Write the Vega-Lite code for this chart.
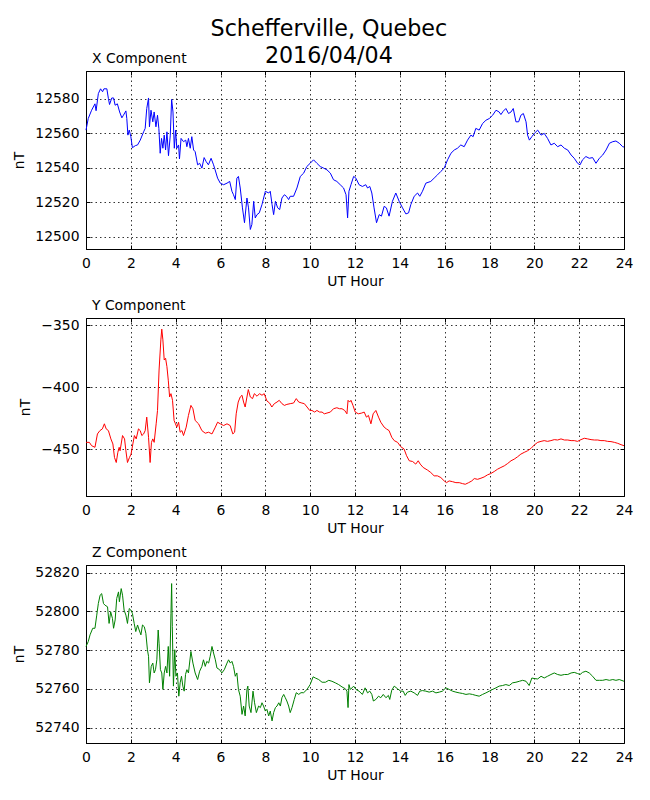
{
  "$schema": "https://vega.github.io/schema/vega-lite/v6.json",
  "padding": {"left": 12, "top": 17, "right": 20, "bottom": 10},
  "title": {
    "text": ["Schefferville, Quebec", "2016/04/04"],
    "fontSize": 22.2,
    "fontWeight": "normal",
    "font": "DejaVu Sans",
    "color": "black",
    "anchor": "middle",
    "frame": "bounds",
    "lineHeight": 27,
    "offset": -16
  },
  "datasets": {
    "x": [
      {"hour": 0, "nT": 12561.8}, {"hour": 0.1, "nT": 12568.5}, {"hour": 0.25, "nT": 12573.3}, {"hour": 0.4, "nT": 12577}, {"hour": 0.45, "nT": 12573},
      {"hour": 0.55, "nT": 12582.9}, {"hour": 0.65, "nT": 12585.7}, {"hour": 0.74, "nT": 12584}, {"hour": 0.8, "nT": 12585.7}, {"hour": 0.93, "nT": 12585.7},
      {"hour": 1.0, "nT": 12580}, {"hour": 1.05, "nT": 12576.6}, {"hour": 1.15, "nT": 12580.4}, {"hour": 1.23, "nT": 12580.4}, {"hour": 1.3, "nT": 12576.2},
      {"hour": 1.4, "nT": 12577}, {"hour": 1.5, "nT": 12572.3}, {"hour": 1.6, "nT": 12568.9}, {"hour": 1.67, "nT": 12570.4}, {"hour": 1.78, "nT": 12572.9},
      {"hour": 1.82, "nT": 12568.5}, {"hour": 1.87, "nT": 12558.9}, {"hour": 1.93, "nT": 12561.8}, {"hour": 2.0, "nT": 12558}, {"hour": 2.07, "nT": 12551.6},
      {"hour": 2.2, "nT": 12552.8}, {"hour": 2.3, "nT": 12553.2}, {"hour": 2.42, "nT": 12556}, {"hour": 2.57, "nT": 12560.8}, {"hour": 2.64, "nT": 12562.8},
      {"hour": 2.71, "nT": 12574.3}, {"hour": 2.79, "nT": 12580.4}, {"hour": 2.83, "nT": 12563.7}, {"hour": 2.9, "nT": 12573.3}, {"hour": 2.98, "nT": 12566.6},
      {"hour": 3.04, "nT": 12572.3}, {"hour": 3.12, "nT": 12563.7}, {"hour": 3.19, "nT": 12570.4}, {"hour": 3.25, "nT": 12562.8}, {"hour": 3.31, "nT": 12548.4},
      {"hour": 3.37, "nT": 12557}, {"hour": 3.43, "nT": 12551.3}, {"hour": 3.49, "nT": 12558.9}, {"hour": 3.55, "nT": 12550.3}, {"hour": 3.61, "nT": 12560.8},
      {"hour": 3.68, "nT": 12547}, {"hour": 3.76, "nT": 12558.9}, {"hour": 3.82, "nT": 12579.6}, {"hour": 3.88, "nT": 12572.3}, {"hour": 3.94, "nT": 12551.3},
      {"hour": 4.0, "nT": 12561.8}, {"hour": 4.05, "nT": 12551.3}, {"hour": 4.13, "nT": 12553.2}, {"hour": 4.17, "nT": 12545.1}, {"hour": 4.24, "nT": 12557},
      {"hour": 4.35, "nT": 12555.1}, {"hour": 4.45, "nT": 12556}, {"hour": 4.5, "nT": 12552.2}, {"hour": 4.57, "nT": 12557}, {"hour": 4.65, "nT": 12551.3},
      {"hour": 4.72, "nT": 12558}, {"hour": 4.8, "nT": 12550.3}, {"hour": 4.87, "nT": 12549.3}, {"hour": 4.98, "nT": 12541.7}, {"hour": 5.07, "nT": 12542.6},
      {"hour": 5.17, "nT": 12539.8}, {"hour": 5.27, "nT": 12545.9}, {"hour": 5.36, "nT": 12543.6}, {"hour": 5.46, "nT": 12541.7}, {"hour": 5.58, "nT": 12545.5},
      {"hour": 5.69, "nT": 12541.7}, {"hour": 5.76, "nT": 12538.8}, {"hour": 5.87, "nT": 12534}, {"hour": 5.99, "nT": 12531.1}, {"hour": 6.14, "nT": 12530.2},
      {"hour": 6.29, "nT": 12531.1}, {"hour": 6.41, "nT": 12532.1}, {"hour": 6.51, "nT": 12526.4}, {"hour": 6.58, "nT": 12524.4}, {"hour": 6.66, "nT": 12521.6},
      {"hour": 6.73, "nT": 12534}, {"hour": 6.8, "nT": 12535}, {"hour": 6.88, "nT": 12528.3}, {"hour": 6.98, "nT": 12516.8}, {"hour": 7.07, "nT": 12508.2},
      {"hour": 7.18, "nT": 12522.5}, {"hour": 7.25, "nT": 12516.8}, {"hour": 7.33, "nT": 12504.3}, {"hour": 7.4, "nT": 12507.2}, {"hour": 7.48, "nT": 12520.6},
      {"hour": 7.55, "nT": 12511}, {"hour": 7.63, "nT": 12512.9}, {"hour": 7.73, "nT": 12513.9}, {"hour": 7.85, "nT": 12518.7}, {"hour": 8.0, "nT": 12526.4},
      {"hour": 8.15, "nT": 12525.4}, {"hour": 8.22, "nT": 12526.4}, {"hour": 8.3, "nT": 12518.7}, {"hour": 8.37, "nT": 12512.9}, {"hour": 8.45, "nT": 12520.6},
      {"hour": 8.55, "nT": 12516.8}, {"hour": 8.64, "nT": 12515.8}, {"hour": 8.74, "nT": 12522.5}, {"hour": 8.85, "nT": 12524.4}, {"hour": 8.94, "nT": 12523.5},
      {"hour": 9.04, "nT": 12521.6}, {"hour": 9.11, "nT": 12523.5}, {"hour": 9.26, "nT": 12523.5}, {"hour": 9.41, "nT": 12528.3}, {"hour": 9.56, "nT": 12535},
      {"hour": 9.71, "nT": 12536.9}, {"hour": 9.85, "nT": 12540.7}, {"hour": 10.0, "nT": 12542.6}, {"hour": 10.15, "nT": 12544.6}, {"hour": 10.3, "nT": 12542.6},
      {"hour": 10.45, "nT": 12540.7}, {"hour": 10.6, "nT": 12539.8}, {"hour": 10.75, "nT": 12538.8}, {"hour": 10.9, "nT": 12536.9}, {"hour": 11.04, "nT": 12533.1},
      {"hour": 11.19, "nT": 12532.1}, {"hour": 11.34, "nT": 12530.2}, {"hour": 11.49, "nT": 12528.3}, {"hour": 11.6, "nT": 12524.4}, {"hour": 11.67, "nT": 12511},
      {"hour": 11.73, "nT": 12526.4}, {"hour": 11.82, "nT": 12530.2}, {"hour": 11.94, "nT": 12535}, {"hour": 12.04, "nT": 12534}, {"hour": 12.18, "nT": 12530.2},
      {"hour": 12.33, "nT": 12529.2}, {"hour": 12.48, "nT": 12530.2}, {"hour": 12.56, "nT": 12528.3}, {"hour": 12.66, "nT": 12529.2}, {"hour": 12.75, "nT": 12525.4},
      {"hour": 12.85, "nT": 12516.8}, {"hour": 12.96, "nT": 12508.2}, {"hour": 13.08, "nT": 12512.9}, {"hour": 13.18, "nT": 12512}, {"hour": 13.3, "nT": 12517.7},
      {"hour": 13.4, "nT": 12516.8}, {"hour": 13.52, "nT": 12512}, {"hour": 13.67, "nT": 12520.6}, {"hour": 13.82, "nT": 12525.4}, {"hour": 13.97, "nT": 12520.6},
      {"hour": 14.12, "nT": 12516.8}, {"hour": 14.27, "nT": 12513.3}, {"hour": 14.39, "nT": 12513.9}, {"hour": 14.49, "nT": 12518.7}, {"hour": 14.64, "nT": 12523.5},
      {"hour": 14.79, "nT": 12525.4}, {"hour": 14.89, "nT": 12523.5}, {"hour": 15.01, "nT": 12526.4}, {"hour": 15.16, "nT": 12531.1}, {"hour": 15.38, "nT": 12532.1},
      {"hour": 15.53, "nT": 12534}, {"hour": 15.68, "nT": 12535.9}, {"hour": 15.83, "nT": 12537.9}, {"hour": 15.98, "nT": 12539.8}, {"hour": 16.13, "nT": 12544.6},
      {"hour": 16.28, "nT": 12548.4}, {"hour": 16.43, "nT": 12550.3}, {"hour": 16.57, "nT": 12551.3}, {"hour": 16.72, "nT": 12553.2}, {"hour": 16.87, "nT": 12552.2},
      {"hour": 17.02, "nT": 12556}, {"hour": 17.17, "nT": 12558.9}, {"hour": 17.27, "nT": 12558}, {"hour": 17.39, "nT": 12562.8}, {"hour": 17.54, "nT": 12561.8},
      {"hour": 17.69, "nT": 12565.6}, {"hour": 17.84, "nT": 12567.5}, {"hour": 17.99, "nT": 12568.5}, {"hour": 18.14, "nT": 12570.4}, {"hour": 18.29, "nT": 12573.3},
      {"hour": 18.43, "nT": 12572.3}, {"hour": 18.51, "nT": 12570.8}, {"hour": 18.61, "nT": 12572.7}, {"hour": 18.73, "nT": 12574.3}, {"hour": 18.85, "nT": 12571.4},
      {"hour": 18.96, "nT": 12572.3}, {"hour": 19.06, "nT": 12574.3}, {"hour": 19.18, "nT": 12566.6}, {"hour": 19.3, "nT": 12566.6}, {"hour": 19.4, "nT": 12570.4},
      {"hour": 19.51, "nT": 12571.4}, {"hour": 19.63, "nT": 12566.6}, {"hour": 19.7, "nT": 12558.9}, {"hour": 19.78, "nT": 12556}, {"hour": 19.89, "nT": 12558},
      {"hour": 20.0, "nT": 12559.9}, {"hour": 20.15, "nT": 12561.8}, {"hour": 20.3, "nT": 12558.9}, {"hour": 20.44, "nT": 12559.9}, {"hour": 20.59, "nT": 12557},
      {"hour": 20.74, "nT": 12553.2}, {"hour": 20.89, "nT": 12554.2}, {"hour": 21.04, "nT": 12552.2}, {"hour": 21.19, "nT": 12553.2}, {"hour": 21.34, "nT": 12551.3},
      {"hour": 21.49, "nT": 12550.3}, {"hour": 21.64, "nT": 12547.4}, {"hour": 21.78, "nT": 12545.5}, {"hour": 21.93, "nT": 12542.6}, {"hour": 22.04, "nT": 12541.7},
      {"hour": 22.15, "nT": 12544.6}, {"hour": 22.3, "nT": 12546.5}, {"hour": 22.45, "nT": 12545.5}, {"hour": 22.6, "nT": 12545.9}, {"hour": 22.75, "nT": 12542.6},
      {"hour": 22.9, "nT": 12545.5}, {"hour": 23.05, "nT": 12547.4}, {"hour": 23.2, "nT": 12550.3}, {"hour": 23.35, "nT": 12554.2}, {"hour": 23.5, "nT": 12555.1},
      {"hour": 23.64, "nT": 12555.5}, {"hour": 23.79, "nT": 12554.2}, {"hour": 23.94, "nT": 12552.2}, {"hour": 24, "nT": 12552}
    ],
    "y": [
      {"hour": 0, "nT": -444.6}, {"hour": 0.15, "nT": -444.6}, {"hour": 0.25, "nT": -447.3}, {"hour": 0.4, "nT": -448.6}, {"hour": 0.51, "nT": -437.8},
      {"hour": 0.62, "nT": -435.1}, {"hour": 0.73, "nT": -433.7}, {"hour": 0.82, "nT": -429.6}, {"hour": 0.9, "nT": -433.7}, {"hour": 1.0, "nT": -435.1},
      {"hour": 1.11, "nT": -441.8}, {"hour": 1.2, "nT": -445.9}, {"hour": 1.27, "nT": -456.8}, {"hour": 1.35, "nT": -460.9}, {"hour": 1.42, "nT": -452.7},
      {"hour": 1.48, "nT": -448.6}, {"hour": 1.52, "nT": -451.4}, {"hour": 1.63, "nT": -439.1}, {"hour": 1.72, "nT": -441.8}, {"hour": 1.78, "nT": -451.4},
      {"hour": 1.85, "nT": -460.9}, {"hour": 1.94, "nT": -456.8}, {"hour": 2.01, "nT": -454.1}, {"hour": 2.09, "nT": -445.9}, {"hour": 2.16, "nT": -439.1},
      {"hour": 2.24, "nT": -441.8}, {"hour": 2.34, "nT": -433.7}, {"hour": 2.42, "nT": -435.1}, {"hour": 2.49, "nT": -439.1}, {"hour": 2.57, "nT": -437.8},
      {"hour": 2.64, "nT": -435.1}, {"hour": 2.71, "nT": -424.2}, {"hour": 2.79, "nT": -440.5}, {"hour": 2.86, "nT": -460.9}, {"hour": 2.92, "nT": -444.6},
      {"hour": 2.98, "nT": -441.8}, {"hour": 3.04, "nT": -444.6}, {"hour": 3.13, "nT": -429.6}, {"hour": 3.19, "nT": -418.8}, {"hour": 3.26, "nT": -386.1},
      {"hour": 3.34, "nT": -361.7}, {"hour": 3.38, "nT": -353}, {"hour": 3.43, "nT": -361.7}, {"hour": 3.49, "nT": -378}, {"hour": 3.55, "nT": -376.6},
      {"hour": 3.61, "nT": -383.4}, {"hour": 3.67, "nT": -394.3}, {"hour": 3.73, "nT": -407.9}, {"hour": 3.79, "nT": -405.2}, {"hour": 3.86, "nT": -410.6},
      {"hour": 3.93, "nT": -426.9}, {"hour": 3.99, "nT": -429.6}, {"hour": 4.05, "nT": -432.3}, {"hour": 4.13, "nT": -428.3}, {"hour": 4.2, "nT": -436.4},
      {"hour": 4.28, "nT": -435.1}, {"hour": 4.35, "nT": -439.1}, {"hour": 4.47, "nT": -432.3}, {"hour": 4.57, "nT": -422.8}, {"hour": 4.68, "nT": -414.7},
      {"hour": 4.77, "nT": -417.4}, {"hour": 4.87, "nT": -426.9}, {"hour": 5.02, "nT": -429.6}, {"hour": 5.17, "nT": -435.1}, {"hour": 5.32, "nT": -437.2},
      {"hour": 5.47, "nT": -436.4}, {"hour": 5.62, "nT": -437.8}, {"hour": 5.77, "nT": -432.3}, {"hour": 5.87, "nT": -428.3}, {"hour": 5.99, "nT": -429.6},
      {"hour": 6.14, "nT": -431}, {"hour": 6.29, "nT": -429.6}, {"hour": 6.43, "nT": -431}, {"hour": 6.55, "nT": -437.8}, {"hour": 6.63, "nT": -436.4},
      {"hour": 6.7, "nT": -421.5}, {"hour": 6.79, "nT": -412}, {"hour": 6.88, "nT": -407.9}, {"hour": 6.96, "nT": -406.5}, {"hour": 7.03, "nT": -412},
      {"hour": 7.1, "nT": -416}, {"hour": 7.18, "nT": -407.9}, {"hour": 7.24, "nT": -401.9}, {"hour": 7.33, "nT": -407.9}, {"hour": 7.43, "nT": -409.2},
      {"hour": 7.51, "nT": -405.2}, {"hour": 7.63, "nT": -407.3}, {"hour": 7.74, "nT": -405.2}, {"hour": 7.85, "nT": -406.5}, {"hour": 7.95, "nT": -405.2},
      {"hour": 8.07, "nT": -411.1}, {"hour": 8.19, "nT": -412.8}, {"hour": 8.29, "nT": -416}, {"hour": 8.4, "nT": -413.3}, {"hour": 8.52, "nT": -412},
      {"hour": 8.62, "nT": -410.6}, {"hour": 8.74, "nT": -413.3}, {"hour": 8.85, "nT": -414.7}, {"hour": 8.96, "nT": -413.9}, {"hour": 9.11, "nT": -413.3},
      {"hour": 9.26, "nT": -412.8}, {"hour": 9.38, "nT": -409.2}, {"hour": 9.49, "nT": -412}, {"hour": 9.63, "nT": -412.8}, {"hour": 9.74, "nT": -413.3},
      {"hour": 9.86, "nT": -416}, {"hour": 9.98, "nT": -418.8}, {"hour": 10.08, "nT": -418.8}, {"hour": 10.2, "nT": -420.1}, {"hour": 10.3, "nT": -418.8},
      {"hour": 10.42, "nT": -420.1}, {"hour": 10.53, "nT": -420.1}, {"hour": 10.63, "nT": -421.5}, {"hour": 10.75, "nT": -420.9}, {"hour": 10.9, "nT": -420.1},
      {"hour": 11.04, "nT": -417.4}, {"hour": 11.19, "nT": -416.6}, {"hour": 11.31, "nT": -417.4}, {"hour": 11.42, "nT": -417.4}, {"hour": 11.54, "nT": -418.8},
      {"hour": 11.64, "nT": -421.5}, {"hour": 11.69, "nT": -410.6}, {"hour": 11.76, "nT": -412}, {"hour": 11.82, "nT": -410.6}, {"hour": 11.91, "nT": -414.7},
      {"hour": 12.01, "nT": -420.1}, {"hour": 12.15, "nT": -421.5}, {"hour": 12.3, "nT": -420.9}, {"hour": 12.41, "nT": -420.1}, {"hour": 12.51, "nT": -424.2},
      {"hour": 12.6, "nT": -422.8}, {"hour": 12.71, "nT": -429.6}, {"hour": 12.81, "nT": -421.5}, {"hour": 12.93, "nT": -418.8}, {"hour": 13.05, "nT": -424.2},
      {"hour": 13.15, "nT": -428.3}, {"hour": 13.3, "nT": -432.3}, {"hour": 13.4, "nT": -433.7}, {"hour": 13.52, "nT": -435.1}, {"hour": 13.64, "nT": -440.5},
      {"hour": 13.75, "nT": -443.2}, {"hour": 13.9, "nT": -444.6}, {"hour": 14.04, "nT": -448.1}, {"hour": 14.19, "nT": -450}, {"hour": 14.3, "nT": -455.4},
      {"hour": 14.42, "nT": -459.5}, {"hour": 14.57, "nT": -460.1}, {"hour": 14.71, "nT": -462.2}, {"hour": 14.82, "nT": -459.5}, {"hour": 14.91, "nT": -462.2},
      {"hour": 15.04, "nT": -464.9}, {"hour": 15.24, "nT": -467.1}, {"hour": 15.38, "nT": -469}, {"hour": 15.53, "nT": -471.7}, {"hour": 15.68, "nT": -471.7},
      {"hour": 15.83, "nT": -473.1}, {"hour": 15.98, "nT": -475.8}, {"hour": 16.08, "nT": -477.2}, {"hour": 16.2, "nT": -475.8}, {"hour": 16.35, "nT": -476.4},
      {"hour": 16.5, "nT": -477.2}, {"hour": 16.65, "nT": -477.2}, {"hour": 16.8, "nT": -478}, {"hour": 16.92, "nT": -478.5}, {"hour": 17.07, "nT": -477.2},
      {"hour": 17.21, "nT": -475.8}, {"hour": 17.32, "nT": -473.9}, {"hour": 17.47, "nT": -474.5}, {"hour": 17.62, "nT": -473.6}, {"hour": 17.76, "nT": -472.6},
      {"hour": 17.91, "nT": -470.9}, {"hour": 18.06, "nT": -469.8}, {"hour": 18.21, "nT": -468.2}, {"hour": 18.36, "nT": -466.3}, {"hour": 18.51, "nT": -464.9},
      {"hour": 18.66, "nT": -463.6}, {"hour": 18.81, "nT": -461.7}, {"hour": 18.96, "nT": -459.5}, {"hour": 19.1, "nT": -458.2}, {"hour": 19.25, "nT": -456.3},
      {"hour": 19.4, "nT": -454.1}, {"hour": 19.55, "nT": -452.7}, {"hour": 19.7, "nT": -451.4}, {"hour": 19.85, "nT": -449.5}, {"hour": 20.0, "nT": -446.7},
      {"hour": 20.15, "nT": -444.6}, {"hour": 20.3, "nT": -443.8}, {"hour": 20.44, "nT": -443.2}, {"hour": 20.59, "nT": -443.8}, {"hour": 20.74, "nT": -443.2},
      {"hour": 20.89, "nT": -442.4}, {"hour": 21.04, "nT": -442.7}, {"hour": 21.19, "nT": -441.8}, {"hour": 21.34, "nT": -442.7}, {"hour": 21.49, "nT": -442.7},
      {"hour": 21.64, "nT": -443.2}, {"hour": 21.78, "nT": -443.2}, {"hour": 21.93, "nT": -443.8}, {"hour": 22.08, "nT": -442.4}, {"hour": 22.23, "nT": -441.3},
      {"hour": 22.38, "nT": -441.8}, {"hour": 22.53, "nT": -442.4}, {"hour": 22.68, "nT": -442.7}, {"hour": 22.83, "nT": -442.7}, {"hour": 22.97, "nT": -443.2},
      {"hour": 23.12, "nT": -443.2}, {"hour": 23.27, "nT": -443.8}, {"hour": 23.42, "nT": -444}, {"hour": 23.57, "nT": -444.6}, {"hour": 23.72, "nT": -445.4},
      {"hour": 23.87, "nT": -446.5}, {"hour": 24, "nT": -447.3}
    ],
    "z": [
      {"hour": 0, "nT": 52781.9}, {"hour": 0.1, "nT": 52784.4}, {"hour": 0.18, "nT": 52787.9}, {"hour": 0.3, "nT": 52791.3}, {"hour": 0.4, "nT": 52791.3},
      {"hour": 0.48, "nT": 52798.1}, {"hour": 0.55, "nT": 52804.1}, {"hour": 0.63, "nT": 52808.4}, {"hour": 0.7, "nT": 52809.2}, {"hour": 0.78, "nT": 52804.1},
      {"hour": 0.85, "nT": 52803.2}, {"hour": 0.96, "nT": 52802.4}, {"hour": 1.03, "nT": 52793.8}, {"hour": 1.1, "nT": 52799.8}, {"hour": 1.18, "nT": 52796.4},
      {"hour": 1.23, "nT": 52791.3}, {"hour": 1.3, "nT": 52795.6}, {"hour": 1.37, "nT": 52806.7}, {"hour": 1.45, "nT": 52810.1}, {"hour": 1.49, "nT": 52805},
      {"hour": 1.57, "nT": 52811.8}, {"hour": 1.63, "nT": 52808.4}, {"hour": 1.7, "nT": 52800.7}, {"hour": 1.78, "nT": 52798.1}, {"hour": 1.85, "nT": 52793.8},
      {"hour": 1.93, "nT": 52801.5}, {"hour": 2.0, "nT": 52800.7}, {"hour": 2.07, "nT": 52799}, {"hour": 2.15, "nT": 52793.8}, {"hour": 2.22, "nT": 52789.6},
      {"hour": 2.3, "nT": 52793}, {"hour": 2.37, "nT": 52790.4}, {"hour": 2.45, "nT": 52787.9}, {"hour": 2.52, "nT": 52793}, {"hour": 2.6, "nT": 52792.1},
      {"hour": 2.67, "nT": 52788.7}, {"hour": 2.74, "nT": 52780.2}, {"hour": 2.79, "nT": 52776.8}, {"hour": 2.83, "nT": 52763.1}, {"hour": 2.91, "nT": 52771.6},
      {"hour": 2.98, "nT": 52773.3}, {"hour": 3.04, "nT": 52768.2}, {"hour": 3.1, "nT": 52769.9}, {"hour": 3.16, "nT": 52775}, {"hour": 3.22, "nT": 52790.4},
      {"hour": 3.26, "nT": 52783.6}, {"hour": 3.32, "nT": 52769.9}, {"hour": 3.38, "nT": 52768.2}, {"hour": 3.43, "nT": 52759.7}, {"hour": 3.49, "nT": 52768.2},
      {"hour": 3.55, "nT": 52771.6}, {"hour": 3.61, "nT": 52768.2}, {"hour": 3.67, "nT": 52781.9}, {"hour": 3.73, "nT": 52766.5}, {"hour": 3.79, "nT": 52799},
      {"hour": 3.82, "nT": 52814.4}, {"hour": 3.85, "nT": 52792.1}, {"hour": 3.9, "nT": 52761.4}, {"hour": 3.96, "nT": 52780.2}, {"hour": 4.01, "nT": 52766.5},
      {"hour": 4.08, "nT": 52768.2}, {"hour": 4.14, "nT": 52756.2}, {"hour": 4.2, "nT": 52763.1}, {"hour": 4.26, "nT": 52766.5}, {"hour": 4.32, "nT": 52761.4},
      {"hour": 4.38, "nT": 52758.8}, {"hour": 4.44, "nT": 52767.4}, {"hour": 4.5, "nT": 52769.9}, {"hour": 4.57, "nT": 52768.2}, {"hour": 4.68, "nT": 52779.3},
      {"hour": 4.77, "nT": 52773.3}, {"hour": 4.87, "nT": 52768.2}, {"hour": 4.98, "nT": 52764.8}, {"hour": 5.07, "nT": 52769.1}, {"hour": 5.17, "nT": 52771.6},
      {"hour": 5.24, "nT": 52775}, {"hour": 5.32, "nT": 52771.6}, {"hour": 5.39, "nT": 52774.2}, {"hour": 5.47, "nT": 52773.3}, {"hour": 5.54, "nT": 52776.8},
      {"hour": 5.62, "nT": 52781.9}, {"hour": 5.69, "nT": 52778.5}, {"hour": 5.77, "nT": 52775}, {"hour": 5.84, "nT": 52770.8}, {"hour": 5.96, "nT": 52769.9},
      {"hour": 6.06, "nT": 52768.2}, {"hour": 6.17, "nT": 52769.9}, {"hour": 6.29, "nT": 52773.3}, {"hour": 6.36, "nT": 52775}, {"hour": 6.44, "nT": 52773.3},
      {"hour": 6.51, "nT": 52774.2}, {"hour": 6.58, "nT": 52771.6}, {"hour": 6.66, "nT": 52766.5}, {"hour": 6.73, "nT": 52768.2}, {"hour": 6.8, "nT": 52759.7},
      {"hour": 6.88, "nT": 52756.2}, {"hour": 6.96, "nT": 52746.8}, {"hour": 7.03, "nT": 52751.1}, {"hour": 7.1, "nT": 52746}, {"hour": 7.18, "nT": 52759.7},
      {"hour": 7.22, "nT": 52761.4}, {"hour": 7.28, "nT": 52751.1}, {"hour": 7.36, "nT": 52747.7}, {"hour": 7.45, "nT": 52758.8}, {"hour": 7.52, "nT": 52752.8},
      {"hour": 7.6, "nT": 52747.7}, {"hour": 7.7, "nT": 52751.1}, {"hour": 7.78, "nT": 52750.3}, {"hour": 7.85, "nT": 52752.8}, {"hour": 7.92, "nT": 52751.1},
      {"hour": 8.0, "nT": 52748.5}, {"hour": 8.07, "nT": 52749.4}, {"hour": 8.15, "nT": 52746}, {"hour": 8.22, "nT": 52748.5}, {"hour": 8.3, "nT": 52743.4},
      {"hour": 8.37, "nT": 52747.7}, {"hour": 8.45, "nT": 52750.3}, {"hour": 8.52, "nT": 52751.1}, {"hour": 8.6, "nT": 52752.8}, {"hour": 8.67, "nT": 52751.1},
      {"hour": 8.74, "nT": 52755.4}, {"hour": 8.82, "nT": 52757.1}, {"hour": 8.89, "nT": 52755.4}, {"hour": 8.96, "nT": 52753.7}, {"hour": 9.04, "nT": 52751.1},
      {"hour": 9.11, "nT": 52747.7}, {"hour": 9.19, "nT": 52750.3}, {"hour": 9.29, "nT": 52754.5}, {"hour": 9.38, "nT": 52758}, {"hour": 9.49, "nT": 52757.1},
      {"hour": 9.59, "nT": 52758}, {"hour": 9.71, "nT": 52758}, {"hour": 9.86, "nT": 52759.7}, {"hour": 10.0, "nT": 52762.2}, {"hour": 10.13, "nT": 52766.2},
      {"hour": 10.23, "nT": 52765.6}, {"hour": 10.38, "nT": 52764.8}, {"hour": 10.53, "nT": 52763.4}, {"hour": 10.68, "nT": 52763.4}, {"hour": 10.83, "nT": 52764.4},
      {"hour": 10.97, "nT": 52763.9}, {"hour": 11.12, "nT": 52763.1}, {"hour": 11.27, "nT": 52762.2}, {"hour": 11.42, "nT": 52761}, {"hour": 11.57, "nT": 52760},
      {"hour": 11.64, "nT": 52758.8}, {"hour": 11.69, "nT": 52750.3}, {"hour": 11.73, "nT": 52762.2}, {"hour": 11.79, "nT": 52759.7}, {"hour": 11.87, "nT": 52760.5},
      {"hour": 11.94, "nT": 52761.4}, {"hour": 12.04, "nT": 52759.7}, {"hour": 12.18, "nT": 52758.8}, {"hour": 12.33, "nT": 52757.1}, {"hour": 12.45, "nT": 52760.5},
      {"hour": 12.56, "nT": 52757.9}, {"hour": 12.66, "nT": 52758.8}, {"hour": 12.75, "nT": 52757.1}, {"hour": 12.82, "nT": 52753.7}, {"hour": 12.93, "nT": 52754.5},
      {"hour": 13.05, "nT": 52756.2}, {"hour": 13.15, "nT": 52755.4}, {"hour": 13.26, "nT": 52757.1}, {"hour": 13.38, "nT": 52755.4}, {"hour": 13.49, "nT": 52756.6},
      {"hour": 13.55, "nT": 52754.5}, {"hour": 13.64, "nT": 52759.3}, {"hour": 13.75, "nT": 52761.4}, {"hour": 13.9, "nT": 52760}, {"hour": 14.04, "nT": 52758.8},
      {"hour": 14.15, "nT": 52758.8}, {"hour": 14.24, "nT": 52756.6}, {"hour": 14.34, "nT": 52758.3}, {"hour": 14.49, "nT": 52758.8}, {"hour": 14.64, "nT": 52757.9},
      {"hour": 14.79, "nT": 52756.6}, {"hour": 14.89, "nT": 52758.8}, {"hour": 15.01, "nT": 52759.1}, {"hour": 15.16, "nT": 52758.8}, {"hour": 15.31, "nT": 52758.3},
      {"hour": 15.46, "nT": 52758.8}, {"hour": 15.61, "nT": 52757.9}, {"hour": 15.76, "nT": 52758.3}, {"hour": 15.9, "nT": 52758.8}, {"hour": 16.05, "nT": 52760.5},
      {"hour": 16.2, "nT": 52759.7}, {"hour": 16.35, "nT": 52758.8}, {"hour": 16.5, "nT": 52758.3}, {"hour": 16.65, "nT": 52757.9}, {"hour": 16.8, "nT": 52757.6},
      {"hour": 16.95, "nT": 52757.1}, {"hour": 17.1, "nT": 52757.4}, {"hour": 17.24, "nT": 52757.1}, {"hour": 17.39, "nT": 52756.6}, {"hour": 17.54, "nT": 52756.2},
      {"hour": 17.69, "nT": 52757.1}, {"hour": 17.84, "nT": 52757.9}, {"hour": 17.99, "nT": 52758.8}, {"hour": 18.14, "nT": 52759.7}, {"hour": 18.29, "nT": 52760.5},
      {"hour": 18.43, "nT": 52761.4}, {"hour": 18.58, "nT": 52761.7}, {"hour": 18.73, "nT": 52762.2}, {"hour": 18.88, "nT": 52761.7}, {"hour": 19.03, "nT": 52763.1},
      {"hour": 19.18, "nT": 52763.4}, {"hour": 19.33, "nT": 52763.9}, {"hour": 19.48, "nT": 52764.4}, {"hour": 19.63, "nT": 52763.9}, {"hour": 19.77, "nT": 52761.7},
      {"hour": 19.89, "nT": 52765.6}, {"hour": 20.0, "nT": 52765.3}, {"hour": 20.15, "nT": 52765.1}, {"hour": 20.3, "nT": 52766.5}, {"hour": 20.44, "nT": 52765.6},
      {"hour": 20.59, "nT": 52766.5}, {"hour": 20.74, "nT": 52767.4}, {"hour": 20.89, "nT": 52768.2}, {"hour": 21.04, "nT": 52767.4}, {"hour": 21.19, "nT": 52767},
      {"hour": 21.34, "nT": 52767.4}, {"hour": 21.49, "nT": 52767.4}, {"hour": 21.64, "nT": 52768.2}, {"hour": 21.78, "nT": 52768.5}, {"hour": 21.93, "nT": 52767.9},
      {"hour": 22.04, "nT": 52767.4}, {"hour": 22.15, "nT": 52768.5}, {"hour": 22.3, "nT": 52769.1}, {"hour": 22.45, "nT": 52768.2}, {"hour": 22.6, "nT": 52766.5},
      {"hour": 22.75, "nT": 52764.4}, {"hour": 22.9, "nT": 52764.4}, {"hour": 23.05, "nT": 52764.4}, {"hour": 23.2, "nT": 52764.8}, {"hour": 23.35, "nT": 52764.4},
      {"hour": 23.5, "nT": 52764.8}, {"hour": 23.64, "nT": 52764.4}, {"hour": 23.79, "nT": 52764.8}, {"hour": 24, "nT": 52763.9}
    ]
  },
  "spacing": 69,
  "bounds": "flush",
  "vconcat": [
    {
      "data": {"name": "x"},
      "width": 538,
      "height": 178,
      "title": {"text": "X Component"},
      "encoding": {
        "x": {"field": "hour", "type": "quantitative", "scale": {"domain": [0, 24], "nice": false}},
        "y": {"field": "nT", "type": "quantitative", "scale": {"domain": [12493, 12596], "nice": false, "zero": false}}
      },
      "layer": [
        {
          "mark": {"type": "line", "color": "#0000ff", "strokeWidth": 1},
          "encoding": {
            "x": {"field": "hour", "type": "quantitative", "axis": {"title": "UT Hour"}},
            "y": {"field": "nT", "type": "quantitative", "axis": {"title": "nT", "format": "d", "values": [12500, 12520, 12540, 12560, 12580]}}
          }
        },
        {
          "mark": {"type": "line", "strokeOpacity": 0},
          "encoding": {
            "x": {"field": "hour", "type": "quantitative", "axis": {"orient": "top", "labels": false, "title": null, "grid": false, "domain": false}},
            "y": {"field": "nT", "type": "quantitative", "axis": {"orient": "right", "labels": false, "title": null, "grid": false, "domain": false, "values": [12500, 12520, 12540, 12560, 12580]}}
          }
        }
      ],
      "resolve": {"axis": {"x": "independent", "y": "independent"}}
    },
    {
      "data": {"name": "y"},
      "width": 538,
      "height": 178,
      "title": {"text": "Y Component"},
      "encoding": {
        "x": {"field": "hour", "type": "quantitative", "scale": {"domain": [0, 24], "nice": false}},
        "y": {"field": "nT", "type": "quantitative", "scale": {"domain": [-488, -344], "nice": false, "zero": false}}
      },
      "layer": [
        {
          "mark": {"type": "line", "color": "#ff0000", "strokeWidth": 1},
          "encoding": {
            "x": {"field": "hour", "type": "quantitative", "axis": {"title": "UT Hour"}},
            "y": {"field": "nT", "type": "quantitative", "axis": {"title": "nT", "format": "d", "values": [-450, -400, -350]}}
          }
        },
        {
          "mark": {"type": "line", "strokeOpacity": 0},
          "encoding": {
            "x": {"field": "hour", "type": "quantitative", "axis": {"orient": "top", "labels": false, "title": null, "grid": false, "domain": false}},
            "y": {"field": "nT", "type": "quantitative", "axis": {"orient": "right", "labels": false, "title": null, "grid": false, "domain": false, "values": [-450, -400, -350]}}
          }
        }
      ],
      "resolve": {"axis": {"x": "independent", "y": "independent"}}
    },
    {
      "data": {"name": "z"},
      "width": 538,
      "height": 178,
      "title": {"text": "Z Component"},
      "encoding": {
        "x": {"field": "hour", "type": "quantitative", "scale": {"domain": [0, 24], "nice": false}},
        "y": {"field": "nT", "type": "quantitative", "scale": {"domain": [52732, 52824], "nice": false, "zero": false}}
      },
      "layer": [
        {
          "mark": {"type": "line", "color": "#008000", "strokeWidth": 1},
          "encoding": {
            "x": {"field": "hour", "type": "quantitative", "axis": {"title": "UT Hour"}},
            "y": {"field": "nT", "type": "quantitative", "axis": {"title": "nT", "format": "d", "values": [52740, 52760, 52780, 52800, 52820]}}
          }
        },
        {
          "mark": {"type": "line", "strokeOpacity": 0},
          "encoding": {
            "x": {"field": "hour", "type": "quantitative", "axis": {"orient": "top", "labels": false, "title": null, "grid": false, "domain": false}},
            "y": {"field": "nT", "type": "quantitative", "axis": {"orient": "right", "labels": false, "title": null, "grid": false, "domain": false, "values": [52740, 52760, 52780, 52800, 52820]}}
          }
        }
      ],
      "resolve": {"axis": {"x": "independent", "y": "independent"}}
    }
  ],
  "config": {
    "font": "DejaVu Sans",
    "view": {"stroke": "black", "strokeWidth": 1},
    "title": {"fontSize": 13.9, "fontWeight": "normal", "anchor": "start", "frame": "group", "dx": 6, "offset": 5, "color": "black", "font": "DejaVu Sans"},
    "axis": {
      "labelFont": "DejaVu Sans",
      "labelFontSize": 13.9,
      "labelColor": "black",
      "titleFont": "DejaVu Sans",
      "titleFontSize": 13.9,
      "titleFontWeight": "normal",
      "titleColor": "black",
      "domainColor": "black",
      "tickColor": "black",
      "tickSize": -4,
      "labelPadding": 11,
      "gridColor": "black",
      "gridOpacity": 1,
      "gridWidth": 0.8,
      "gridDash": [1.5, 3],
      "labelFlush": false,
      "labelOverlap": false
    },
    "axisX": {
      "values": [0, 1, 2, 3, 4, 5, 6, 7, 8, 9, 10, 11, 12, 13, 14, 15, 16, 17, 18, 19, 20, 21, 22, 23, 24],
      "labelExpr": "datum.value % 2 == 1 ? '' : datum.label",
      "gridOpacity": {"condition": {"test": "datum.value % 2 == 1", "value": 0}, "value": 1},
      "tickSize": {"condition": {"test": "datum.value % 2 == 1", "value": -2}, "value": -4},
      "titlePadding": 5
    },
    "axisY": {"titlePadding": 8}
  }
}
